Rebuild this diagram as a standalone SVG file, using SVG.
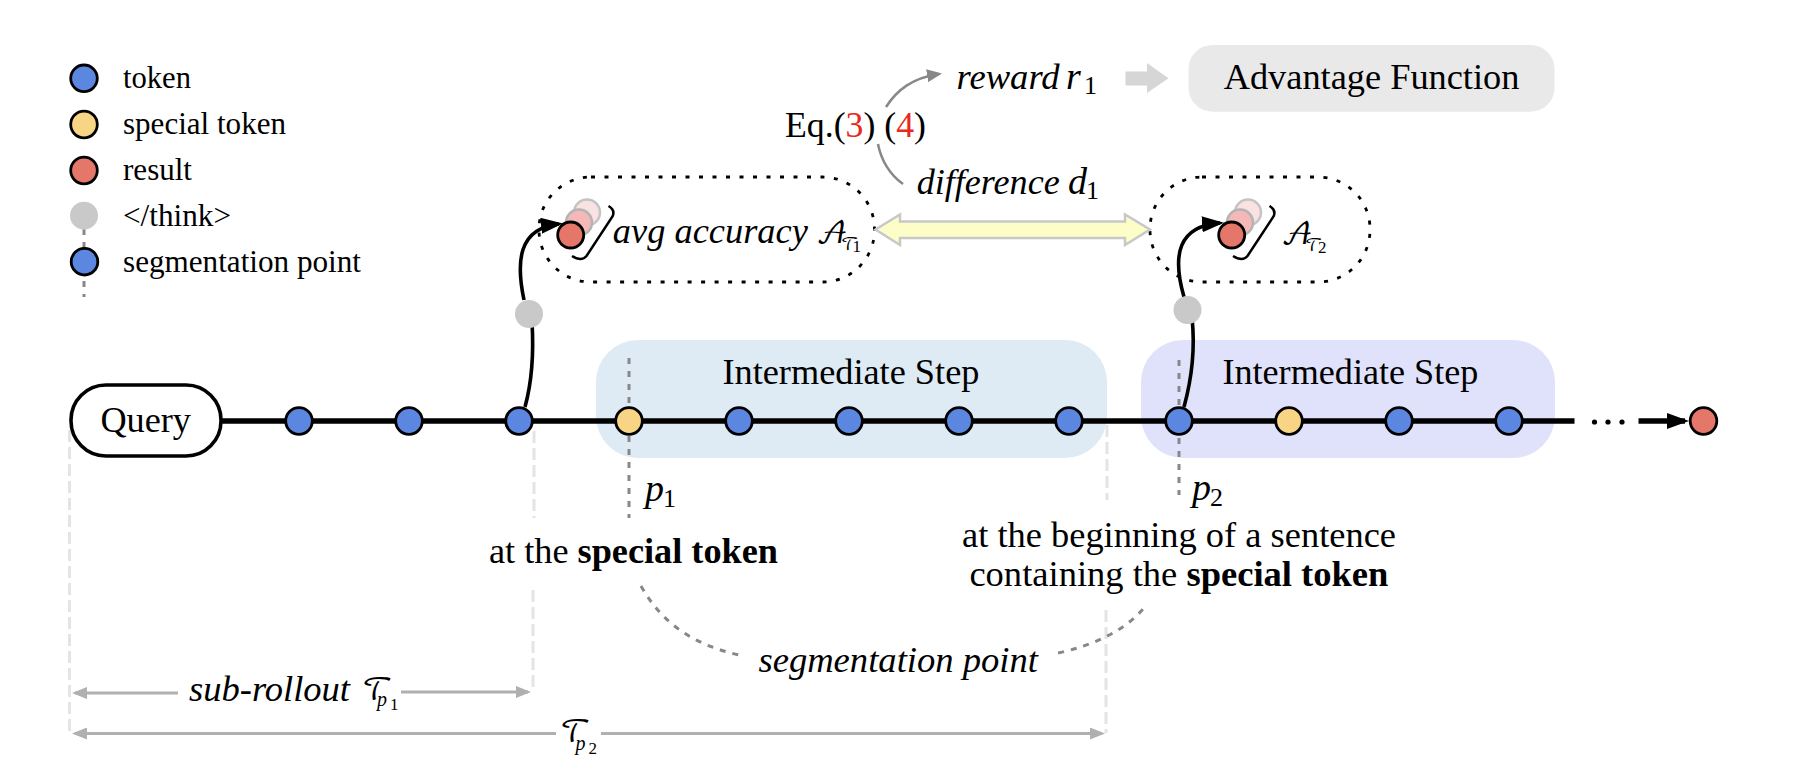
<svg xmlns="http://www.w3.org/2000/svg" xmlns:xlink="http://www.w3.org/1999/xlink" width="1812" height="772" viewBox="0 0 1812 772">
<style>
text{font-family:"Liberation Serif","Times New Roman",serif;font-size:36px;fill:#000}
.lg{font-size:30.5px}
.it{font-style:italic}
.b{font-weight:bold}
.m{font-size:38px;font-style:italic}
.sub{font-size:26px}
.subi{font-size:24px;font-style:italic}
.sub2{font-size:17px}
.mc{font-family:"DejaVu Math TeX Gyre","Liberation Serif",serif;font-size:30px}
.mc2{font-family:"DejaVu Math TeX Gyre","Liberation Serif",serif;font-size:17px}
.tk{stroke:#000;stroke-width:2.8}
.blue{fill:#5c87e0}.yel{fill:#f8d584}.red{fill:#e5776a}.gray{fill:#c9c9c9}
.dot{fill:none;stroke:#000;stroke-width:2.8;stroke-dasharray:4 9.5}
.gd{fill:none;stroke:#888;stroke-width:3;stroke-dasharray:6 7}
.ld{fill:none;stroke:#e4e4e4;stroke-width:3;stroke-dasharray:12 5}
.dim{fill:none;stroke:#b0b0b0;stroke-width:3}
.thin{fill:none;stroke:#888;stroke-width:2.5}
.blk{fill:none;stroke:#000;stroke-width:3.6}
</style>
<defs>
<marker id="hb" markerUnits="userSpaceOnUse" markerWidth="22" markerHeight="16" viewBox="0 0 22 16" refX="18" refY="8" orient="auto"><path d="M0 0L22 8L0 16z" fill="#000"/></marker>
<marker id="hg" markerUnits="userSpaceOnUse" markerWidth="15" markerHeight="13" viewBox="0 0 15 13" refX="12" refY="6.5" orient="auto"><path d="M0 0L15 6.5L0 13z" fill="#888"/></marker>
<marker id="hd" markerUnits="userSpaceOnUse" markerWidth="15" markerHeight="12" viewBox="0 0 15 12" refX="12" refY="6" orient="auto-start-reverse"><path d="M0 0L15 6L0 12z" fill="#b0b0b0"/></marker>
<g id="stack">
<circle cx="587" cy="212.5" r="13" fill="#f8e2e2" stroke="#c4c4c4" stroke-width="2.5"/>
<circle cx="579" cy="222.5" r="13" fill="#f5b8b8" stroke="#b4b4b4" stroke-width="2.5"/>
<circle cx="570.7" cy="235" r="13" class="red tk"/>
<path d="M608.5 206Q615.5 210 612.5 216.5L586.5 256Q581.5 262 572 256" fill="none" stroke="#000" stroke-width="2.5"/>
</g>
</defs>

<g id="legend">
<path class="gd" d="M84 229V297"/>
<circle class="blue tk" cx="84" cy="78.3" r="13.3"/>
<circle class="yel tk" cx="84" cy="124.5" r="13.3"/>
<circle class="red tk" cx="84" cy="170.5" r="13.3"/>
<circle class="gray" cx="84" cy="215.7" r="14"/>
<circle class="blue tk" cx="84.5" cy="261.7" r="13.3"/>
<text class="lg" x="123" y="87.7" textLength="68" lengthAdjust="spacingAndGlyphs">token</text>
<text class="lg" x="123" y="134" textLength="163" lengthAdjust="spacingAndGlyphs">special token</text>
<text class="lg" x="123" y="180" textLength="69" lengthAdjust="spacingAndGlyphs">result</text>
<text class="lg" x="123" y="225.7" textLength="108" lengthAdjust="spacingAndGlyphs">&lt;/think&gt;</text>
<text class="lg" x="123" y="271.7" textLength="238" lengthAdjust="spacingAndGlyphs">segmentation point</text>
</g>

<g id="step1"><rect x="596" y="340" width="511" height="118" rx="42" fill="#deeaf4"/><text x="722.4" y="384" textLength="257" lengthAdjust="spacingAndGlyphs">Intermediate Step</text></g>
<g id="step2"><rect x="1141" y="340" width="414" height="118" rx="42" fill="#e0e2fb"/><text x="1222.4" y="384" textLength="256" lengthAdjust="spacingAndGlyphs">Intermediate Step</text></g>

<g id="advantage"><rect x="1188.5" y="45" width="366" height="66.7" rx="24" fill="#e9e9e9"/><text x="1223.7" y="89.3" textLength="295.7" lengthAdjust="spacingAndGlyphs">Advantage Function</text></g>
<g id="avg1"><rect class="dot" x="539" y="177" width="335.5" height="105" rx="52"/>
<use xlink:href="#stack" href="#stack"/>
<text class="it" x="612.8" y="242.7" textLength="195" lengthAdjust="spacingAndGlyphs">avg accuracy</text><text class="mc" x="816" y="243">𝒜</text><text class="mc2" x="841" y="250">𝒯</text><text class="sub2" x="852.5" y="252">1</text></g>
<g id="avg2"><rect class="dot" x="1150" y="177" width="220" height="105" rx="52"/>
<use xlink:href="#stack" href="#stack" x="661"/>
<text class="mc" x="1281" y="244">𝒜</text><text class="mc2" x="1305" y="251">𝒯</text><text class="sub2" x="1318" y="253">2</text></g>

<g id="connectors">
<path class="ld" d="M69.5 430V733"/>
<path class="ld" d="M534 431V518M533 590V690"/>
<path class="ld" d="M1107 425V500M1106 610V733"/>
<path class="gd" d="M629 358V518"/>
<path class="gd" d="M1179 360V495"/>
<path d="M222 421H1574.5" fill="none" stroke="#000" stroke-width="5.5"/>
<path d="M1638.5 421H1685" fill="none" stroke="#000" stroke-width="5.5" marker-end="url(#hb)"/>
<path class="blk" d="M525 407C531 385 534 355 532 322"/>
<path class="blk" d="M524 300C516 262 518 228 559 224" marker-end="url(#hb)"/>
<path class="blk" d="M1184 407C1190 385 1196 355 1192 318"/>
<path class="blk" d="M1184 297C1172 255 1178 226 1220 223" marker-end="url(#hb)"/>
<path class="thin" d="M886 107C897 90 912 78 939 74" marker-end="url(#hg)"/>
<path class="thin" d="M878 144C881 160 890 175 903 184"/>
<path class="gd" d="M641 586C663 625 695 645 739 655"/>
<path class="gd" d="M1058 653C1095 645 1125 630 1143 609"/>
<path class="dim" d="M178 693H75" marker-end="url(#hd)"/>
<path class="dim" d="M401 692H528" marker-end="url(#hd)"/>
<path class="dim" d="M556 733.5H75" marker-end="url(#hd)"/>
<path class="dim" d="M601 733.5H1102" marker-end="url(#hd)"/>
<path d="M1125.5 71.5H1147V63L1168.5 78.3L1147 93V85.5H1125.5z" fill="#d6d6d6"/>
<path d="M875.5 229.5L900 214.5V221.5H1125V214.5L1150 229.5L1125 245V238H900V245z" fill="#fdfdc8" stroke="#c8c8c8" stroke-width="2.5"/>
</g>

<g id="query"><rect x="71" y="385" width="150" height="71" rx="35" fill="#fff" stroke="#000" stroke-width="3.6"/><text x="100.4" y="431.7" textLength="90.6" lengthAdjust="spacingAndGlyphs">Query</text></g>
<g id="n1"><circle class="blue tk" cx="299" cy="421" r="13.3"/></g>
<g id="n2"><circle class="blue tk" cx="409" cy="421" r="13.3"/></g>
<g id="n3"><circle class="blue tk" cx="519" cy="421" r="13.3"/></g>
<g id="n4"><circle class="yel tk" cx="629" cy="421" r="13.3"/></g>
<g id="n5"><circle class="blue tk" cx="739" cy="421" r="13.3"/></g>
<g id="n6"><circle class="blue tk" cx="849" cy="421" r="13.3"/></g>
<g id="n7"><circle class="blue tk" cx="959" cy="421" r="13.3"/></g>
<g id="n8"><circle class="blue tk" cx="1069" cy="421" r="13.3"/></g>
<g id="n9"><circle class="blue tk" cx="1179" cy="421" r="13.3"/></g>
<g id="n10"><circle class="yel tk" cx="1289" cy="421" r="13.3"/></g>
<g id="n11"><circle class="blue tk" cx="1399" cy="421" r="13.3"/></g>
<g id="n12"><circle class="blue tk" cx="1509" cy="421" r="13.3"/></g>
<g id="result"><circle class="red tk" cx="1703.5" cy="421" r="13.3"/></g>
<g id="ellipsis"><circle cx="1594.5" cy="422" r="2.6"/><circle cx="1608" cy="422" r="2.6"/><circle cx="1622" cy="422" r="2.6"/></g>
<g id="think1"><circle class="gray" cx="529" cy="314" r="14"/></g>
<g id="think2"><circle class="gray" cx="1187.5" cy="310" r="14"/></g>

<g id="labels">
<text x="785" y="137" textLength="141" lengthAdjust="spacingAndGlyphs">Eq.(<tspan fill="#e8291c">3</tspan>) (<tspan fill="#e8291c">4</tspan>)</text>
<text class="it" x="956.6" y="89" textLength="103" lengthAdjust="spacingAndGlyphs">reward</text><text class="m" x="1066" y="89">r</text><text class="sub" x="1084" y="94">1</text>
<text class="it" x="916.7" y="194" textLength="143" lengthAdjust="spacingAndGlyphs">difference</text><text class="m" x="1068" y="194">d</text><text class="sub" x="1086" y="199">1</text>
<text class="m" x="645" y="501">p</text><text class="sub" x="663" y="507">1</text>
<text class="m" x="1192" y="500">p</text><text class="sub" x="1210" y="506">2</text>
<text x="489" y="563.3" textLength="289" lengthAdjust="spacingAndGlyphs">at the <tspan class="b">special token</tspan></text>
<text x="962" y="546.7" textLength="434" lengthAdjust="spacingAndGlyphs">at the beginning of a sentence</text>
<text x="969.4" y="585.7" textLength="419" lengthAdjust="spacingAndGlyphs">containing the <tspan class="b">special token</tspan></text>
<text class="it" x="758.4" y="671.7" textLength="279.6" lengthAdjust="spacingAndGlyphs">segmentation point</text>
<text class="it" x="189" y="700.7" textLength="161" lengthAdjust="spacingAndGlyphs">sub-rollout</text><text class="mc" x="362" y="700">𝒯</text><text class="subi" x="377" y="706" style="font-size:20px">p</text><text class="sub2" x="390" y="710">1</text>
<text class="mc" x="560" y="742">𝒯</text><text class="subi" x="575.5" y="750" style="font-size:20px">p</text><text class="sub2" x="588.5" y="754">2</text>
</g>
</svg>
